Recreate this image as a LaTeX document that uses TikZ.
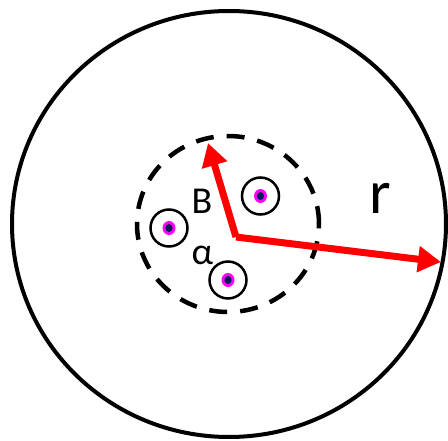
\documentclass[tikz,border=0pt]{standalone}
\usepackage{fontspec}
\setmainfont{Carlito}
\usetikzlibrary{arrows.meta}
\definecolor{dotnavy}{RGB}{0,30,90}
\definecolor{dotmag}{RGB}{255,0,255}
\tikzset{
  outer/.style={draw=black, line width=4pt},
  dashring/.style={draw=black, line width=4.5pt, dash pattern=on 18pt off 13pt},
  wire/.style={circle, draw=black, line width=2.5pt, minimum size=37pt, inner sep=0pt},
  redarrow/.style={draw=red, line width=7pt, -{Triangle[length=23pt,width=25pt]}},
  lbl/.style={inner sep=0pt, font=\fontsize{38}{42}\selectfont},
  biglbl/.style={inner sep=0pt, font=\fontsize{62}{68}\selectfont},
}
\newcommand{\wiredot}[2]{%
  \node[wire] (#1) at #2 {};
  \fill[dotmag] #2 ellipse (6.5pt and 7pt);
  \fill[dotnavy] #2 ellipse (3.6pt and 4pt);
}
\begin{document}
\begin{tikzpicture}[x=1pt,y=-1pt]
\useasboundingbox (0,0) rectangle (448,441);
\draw[outer] (229,224) ellipse (217pt and 213pt);
\draw[dashring] (228,224) ellipse (91pt and 88pt);
\wiredot{w1}{(260.5,196)}
\wiredot{w2}{(169,228)}
\wiredot{w3}{(228,280)}
\coordinate (o) at (236,237);
\coordinate (tipB) at (208,143);
\coordinate (tipR) at (441,262);
\draw[redarrow] (o) -- (tipB);
\draw[redarrow] (o) -- (tipR);
\node[lbl] (B) at (202,201.5) {B};
\node[lbl] (alpha) at (202.5,255) {α};
\node[biglbl] (r) at (380,198.5) {r};
\end{tikzpicture}
\end{document}
